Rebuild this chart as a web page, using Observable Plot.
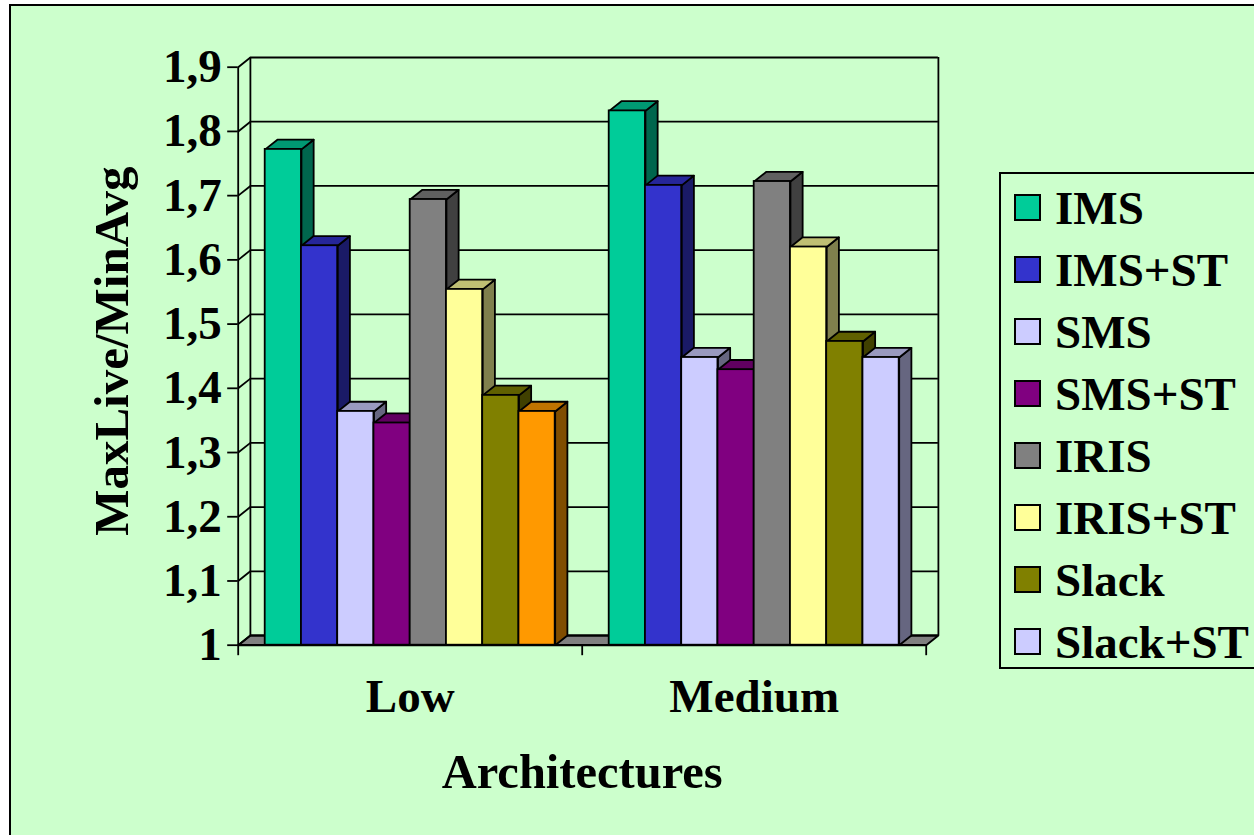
<!DOCTYPE html>
<html>
<head>
<meta charset="utf-8">
<script src="https://cdn.jsdelivr.net/npm/d3@7"></script>
<script src="https://cdn.jsdelivr.net/npm/@observablehq/plot@0.6"></script>
<style>
  html, body { margin: 0; padding: 0; background: #fff; overflow: hidden; }
  body { width: 1254px; height: 835px; position: relative; font-family: "Liberation Serif", serif; }
  #panel { position: absolute; left: 8.5px; top: 4px; right: 0; bottom: 0; background: #ccffcc;
           border-left: 2px solid #000; border-top: 2px solid #000; }
  #chart { position: absolute; left: 0; top: 0; }
  #legend { position: absolute; left: 999px; top: 172px; width: 270px; height: 497px; box-sizing: border-box;
            border: 2px solid #000; font-weight: bold; font-size: 47px; color: #000; }
  .row { position: absolute; left: 12.5px; height: 62px; display: flex; align-items: center; white-space: nowrap; }
  .swatch { width: 27.5px; height: 27.5px; box-sizing: border-box; border: 2px solid #000; margin-right: 14px; flex: none; }
</style>
</head>
<body>
<div id="panel"></div>
<div id="chart"></div>
<div id="legend"></div>
<script>
// MaxLive/MinAvg by architecture and scheduler
const categories = ["Low", "Medium"];
const seriesNames = ["IMS", "IMS+ST", "SMS", "SMS+ST", "IRIS", "IRIS+ST", "Slack", "Slack+ST"];
const lowValues = [1.772, 1.622, 1.364, 1.346, 1.694, 1.554, 1.389, 1.364];
const mediumValues = [1.832, 1.716, 1.448, 1.429, 1.722, 1.62, 1.473, 1.448];
const seriesColors = ["#00cc99", "#3333cc", "#ccccff", "#800080", "#808080", "#ffff99", "#808000", "#ccccff"];
const lowLastColor = "#ff9900";
const yTicks = [1, 1.1, 1.2, 1.3, 1.4, 1.5, 1.6, 1.7, 1.8, 1.9];
const xTicks = [0, 1, 2];

// Chart geometry in data units: each category spans one x unit
const gapRatio = 0.745;
const barWidth = 1 / (seriesNames.length + 2 * gapRatio);
const gap = gapRatio * barWidth;
const depthX = 12.2 / 344;
const depthY = 9.7 / 642.2;
const yMin = yTicks[0], yMax = yTicks[yTicks.length - 1];
const lineWidth = 1.8;
const serif = "Liberation Serif";

const shade = (color, k) => {
  const c = d3.rgb(color);
  return d3.rgb(c.r * k, c.g * k, c.b * k).formatHex();
};

const bars = [];
[lowValues, mediumValues].forEach((values, c) => {
  values.forEach((value, s) => {
    const x1 = c + gap + s * barWidth;
    const color = c === 0 && s === values.length - 1 ? lowLastColor : seriesColors[s];
    bars.push({category: categories[c], series: seriesNames[s], value, x1, x2: x1 + barWidth, color});
  });
});

// Receding faces of each bar, painted left to right behind the front faces
const faces = bars.flatMap((b, i) => {
  const side = [[b.x2, yMin], [b.x2 + depthX, yMin + depthY], [b.x2 + depthX, b.value + depthY], [b.x2, b.value]];
  const top = [[b.x1, b.value], [b.x1 + depthX, b.value + depthY], [b.x2 + depthX, b.value + depthY], [b.x2, b.value]];
  return [
    ...side.map(([x, y]) => ({id: `s${i}`, x, y, fill: shade(b.color, 0.5)})),
    ...top.map(([x, y]) => ({id: `t${i}`, x, y, fill: shade(b.color, 0.75)}))
  ];
});

const floor = [[0, yMin], [depthX, yMin + depthY], [2 + depthX, yMin + depthY], [2, yMin]]
  .map(([x, y]) => ({x, y}));

const comma = d => String(d).replace(".", ",");

const plot = Plot.plot({
  width: 1254,
  height: 835,
  marginLeft: 237.7,
  marginRight: 328.3,
  marginTop: 66.7,
  marginBottom: 190.3,
  style: {background: "transparent", overflow: "visible"},
  x: {domain: [0, 2]},
  y: {domain: [yMin, yMax]},
  color: {type: "identity"},
  marks: [
    // floor, walls and gridlines of the 3D box
    Plot.line(floor, {x: "x", y: "y", fill: "#808080", stroke: "#000", strokeWidth: lineWidth, curve: "linear-closed"}),
    Plot.ruleY(yTicks, {y: d => d + depthY, x1: depthX, x2: 2 + depthX, stroke: "#000", strokeWidth: lineWidth, strokeOpacity: 1}),
    Plot.ruleX([depthX, 2 + depthX], {x: d => d, y1: yMin + depthY, y2: yMax + depthY, stroke: "#000", strokeWidth: lineWidth, strokeOpacity: 1}),
    Plot.ruleX([0], {x: d => d, y1: yMin, y2: yMax, stroke: "#000", strokeWidth: lineWidth, strokeOpacity: 1}),
    Plot.link(yTicks, {x1: 0, y1: d => d, x2: depthX, y2: d => d + depthY, stroke: "#000", strokeWidth: lineWidth}),
    // bars
    Plot.line(faces, {x: "x", y: "y", z: "id", fill: "fill", stroke: "#000", strokeWidth: lineWidth, curve: "linear-closed"}),
    Plot.rect(bars, {x1: "x1", x2: "x2", y1: yMin, y2: "value", fill: "color", stroke: "#000", strokeWidth: lineWidth}),
    // axes
    Plot.ruleY([yMin], {x1: 0, x2: 2, stroke: "#000", strokeWidth: lineWidth + 0.4, strokeOpacity: 1}),
    Plot.axisY(yTicks, {
      tickSize: 10.5, tickPadding: 6, tickFormat: comma, label: null, stroke: "#000", strokeWidth: lineWidth,
      fontFamily: serif, fontWeight: "bold", fontSize: 47, fill: "#000", fontVariant: "normal"
    }),
    Plot.axisX(xTicks, {tickSize: 10.5, tickFormat: () => "", label: null, stroke: "#000", strokeWidth: lineWidth}),
    Plot.text(categories, {
      x: (d, i) => i + 0.5, y: yMin, dy: 52, text: d => d,
      fontFamily: serif, fontWeight: "bold", fontSize: 47, fill: "#000"
    }),
    Plot.text(["Architectures"], {
      x: 1, y: yMin, dy: 127, text: d => d,
      fontFamily: serif, fontWeight: "bold", fontSize: 48.5, fill: "#000"
    }),
    Plot.text(["MaxLive/MinAvg"], {
      x: 0, y: (yMin + yMax) / 2, dx: -126, dy: -5, rotate: -90, text: d => d,
      fontFamily: serif, fontWeight: "bold", fontSize: 49, fill: "#000"
    })
  ]
});
document.getElementById("chart").append(plot);

// Series legend
const legend = document.getElementById("legend");
seriesNames.forEach((name, i) => {
  const row = document.createElement("div");
  row.className = "row";
  row.style.top = `${2.5 + i * 62}px`;
  const swatch = document.createElement("span");
  swatch.className = "swatch";
  swatch.style.background = seriesColors[i];
  row.append(swatch, document.createTextNode(name));
  legend.append(row);
});
</script>
</body>
</html>
